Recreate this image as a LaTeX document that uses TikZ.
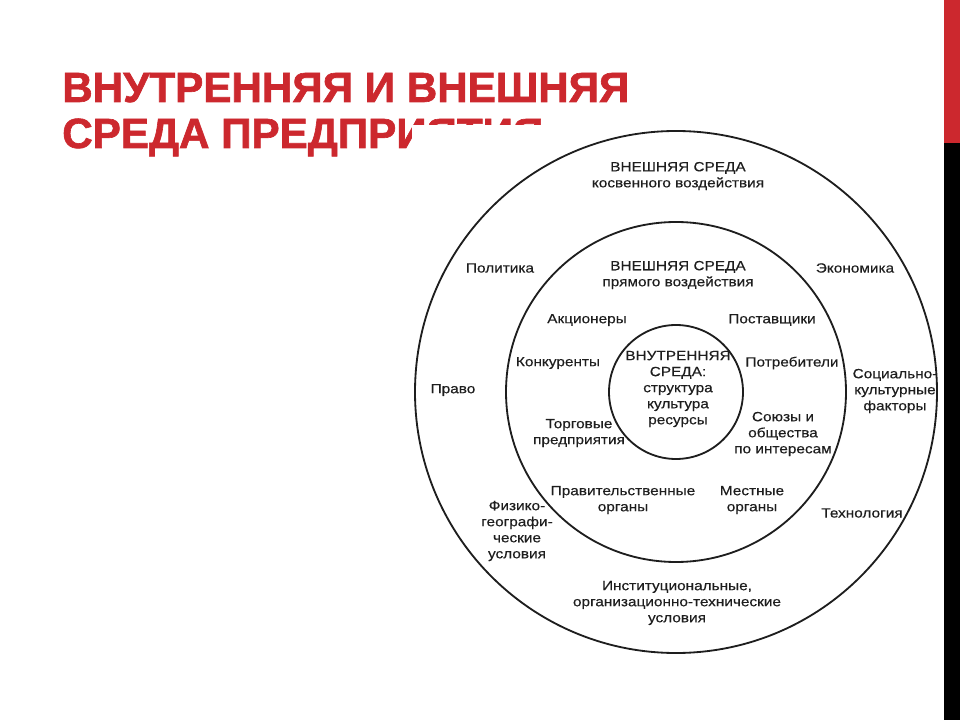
\documentclass[tikz,border=0pt]{standalone}
\usepackage{fontspec}
\setmainfont{Liberation Sans}
\newfontfamily\lblfont[FakeStretch=1.15,FakeBold=0.3]{Liberation Sans}
\newfontfamily\ttlfont[BoldFeatures={FakeBold=1.5}]{Liberation Sans}
\usetikzlibrary{positioning}
\definecolor{tRed}{RGB}{204,40,46}
\definecolor{tInk}{RGB}{30,30,30}

\begin{document}
\begin{tikzpicture}[
	x=0.025cm, y=-0.025cm,
	ring/.style={draw=tInk, line width=1.3pt},
	lbl/.style={
		text=tInk, font=\lblfont\fontsize{9.5}{11.4}\selectfont, align=center, inner sep=0pt
	},
	ttl/.style={
		text=tRed, font=\ttlfont\fontsize{30}{33}\selectfont\bfseries, anchor=base west, inner sep=0pt
	}
	]
	\useasboundingbox (0,0) rectangle (960,720);

	% title, partly hidden by the white of the figure
	\node[ttl] (t1) at (62,102) {ВНУТРЕННЯЯ И ВНЕШНЯЯ};
	\node[ttl] (t2) at (62,148) {СРЕДА ПРЕДПРИЯТИЯ};
	\fill[white] (412,125) rectangle (944,720);

	% side bar
	\fill[tRed] (944,0) rectangle (960,143);
	\fill[black] (944,143) rectangle (960,720);

	% the three rings
	\coordinate (c) at (676,392);
	\foreach \r in {261,170,67}
	\draw[ring] (c) circle (\r);

	% outer ring
	\node[lbl] (hdrOut) at (678,176) {ВНЕШНЯЯ СРЕДА\\косвенного воздействия};
	\node[lbl] (pol) at (500,268) {Политика};
	\node[lbl] (eco) at (855,268) {Экономика};
	\node[lbl] (pravo) at (453,390) {Право};
	\node[lbl] (soc) at (895,391) {Социально-\\культурные\\факторы};
	\node[lbl] (fiz) at (517,531) {Физико-\\географи-\\ческие\\условия};
	\node[lbl] (tech) at (862,513) {Технология};
	\node[lbl] (inst) at (677,603) {Институциональные,\\организационно-технические\\условия};

	% middle ring
	\node[lbl] (hdrMid) at (678,275) {ВНЕШНЯЯ СРЕДА\\прямого воздействия};
	\node[lbl] (akc) at (587,320) {Акционеры};
	\node[lbl] (post) at (772,320) {Поставщики};
	\node[lbl] (konk) at (558,363) {Конкуренты};
	\node[lbl] (potr) at (792,363) {Потребители};
	\node[lbl] (torg) at (579,433) {Торговые\\предприятия};
	\node[lbl] (soyuz) at (783,434) {Союзы и\\общества\\по интересам};
	\node[lbl] (prav) at (623,500) {Правительственные\\органы};
	\node[lbl] (mest) at (752,500) {Местные\\органы};

	% core
	\node[lbl] (core) at (678,389) {ВНУТРЕННЯЯ\\СРЕДА:\\структура\\культура\\ресурсы};
\end{tikzpicture}
\end{document}
